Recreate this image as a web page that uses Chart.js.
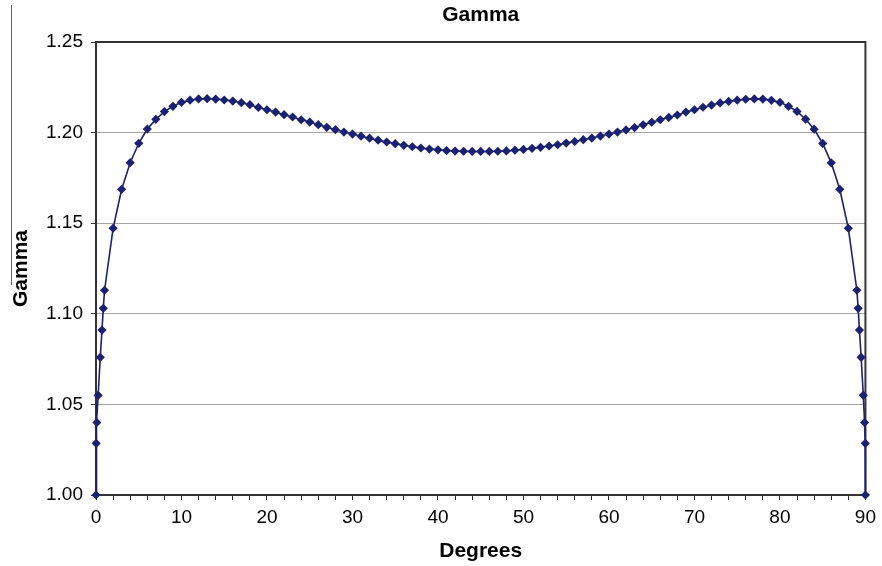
<!DOCTYPE html>
<html>
<head>
<meta charset="utf-8">
<script src="https://cdn.jsdelivr.net/npm/chart.js@4"></script>
<style>
  html, body { margin: 0; padding: 0; background: #fff; }
  #wrap { position: relative; width: 882px; height: 566px; }
  #edge { position: absolute; left: 11px; top: 5px; width: 1px; height: 280px; background: #666; }
</style>
</head>
<body>
<div id="wrap">
  <canvas id="gammaChart" width="882" height="566"></canvas>
  <div id="edge"></div>
</div>
<script>
// values
const degrees = [
  0, 0.02, 0.1, 0.25, 0.5, 0.7, 0.85, 1,
  2, 3, 4, 5, 6, 7, 8, 9, 10,
  11, 12, 13, 14, 15, 16, 17, 18, 19, 20,
  21, 22, 23, 24, 25, 26, 27, 28, 29, 30,
  31, 32, 33, 34, 35, 36, 37, 38, 39, 40,
  41, 42, 43, 44, 45, 46, 47, 48, 49, 50,
  51, 52, 53, 54, 55, 56, 57, 58, 59, 60,
  61, 62, 63, 64, 65, 66, 67, 68, 69, 70,
  71, 72, 73, 74, 75, 76, 77, 78, 79, 80,
  81, 82, 83, 84, 85, 86, 87, 88,
  89, 89.15, 89.3, 89.5, 89.75, 89.9, 89.98, 90
];
const gamma = [
  1.000, 1.0285, 1.040, 1.055, 1.076, 1.091, 1.103, 1.113,
  1.1472, 1.1687, 1.1834, 1.1941, 1.2020, 1.2073, 1.2116, 1.2145, 1.2167,
  1.2179, 1.2186, 1.2187, 1.2185, 1.2180, 1.2174, 1.2165, 1.2154, 1.2139, 1.2126,
  1.2113, 1.2099, 1.2086, 1.2071, 1.2058, 1.2044, 1.2029, 1.2016, 1.2003, 1.1992,
  1.1980, 1.1969, 1.1958, 1.1948, 1.1939, 1.1930, 1.1922, 1.1915, 1.1909, 1.1905,
  1.1901, 1.1898, 1.1897, 1.1896, 1.1896, 1.1896, 1.1897, 1.1899, 1.1903, 1.1907,
  1.1913, 1.1919, 1.1926, 1.1933, 1.1942, 1.1951, 1.1961, 1.1970, 1.1981, 1.1992,
  1.2003, 1.2015, 1.2028, 1.2043, 1.2057, 1.2071, 1.2084, 1.2097, 1.2113, 1.2126,
  1.2140, 1.2152, 1.2164, 1.2172, 1.2179, 1.2184, 1.2186, 1.2185, 1.2178, 1.2167,
  1.2145, 1.2117, 1.2074, 1.2019, 1.1940, 1.1833, 1.1687, 1.1472,
  1.113, 1.103, 1.091, 1.076, 1.055, 1.040, 1.0285, 1.000
];
const xLabels = [0, 10, 20, 30, 40, 50, 60, 70, 80, 90];

const FONT = 'Liberation Sans, Arial, sans-serif';

// box round the plot area, like the Excel frame
const frame = {
  id: 'frame',
  beforeDatasetsDraw(chart) {
    const { ctx, chartArea: a } = chart;
    ctx.save();
    ctx.strokeStyle = '#333';
    ctx.lineWidth = 2;
    ctx.strokeRect(a.left, a.top, a.right - a.left, a.bottom - a.top);
    ctx.restore();
  }
};

function initializeChart() {
  const ctx = document.getElementById('gammaChart').getContext('2d');
  return new Chart(ctx, {
    type: 'line',
    data: {
      datasets: [
        {
          data: degrees.map((d, i) => ({ x: d, y: gamma[i] })),
          borderColor: '#1c2070',
          backgroundColor: '#1c2070',
          borderWidth: 1.6,
          pointStyle: 'rectRot',
          pointRadius: 4.6,
          pointBorderWidth: 0,
          tension: 0,
          clip: false,
        },
      ],
    },
    options: {
      responsive: false,
      animation: false,
      layout: { padding: { left: 0, right: 11, top: 0, bottom: 0 } },
      plugins: {
        legend: { display: false },
        tooltip: { enabled: false },
        title: {
          display: true,
          text: 'Gamma',
          fullSize: false,
          color: '#000',
          font: { family: FONT, size: 21, weight: 'bold' },
          padding: { top: 3, bottom: 13.8 },
        },
      },
      scales: {
        x: {
          type: 'linear',
          min: 0,
          max: 90,
          afterFit: s => { s.height = 71; },
          border: { display: true, color: '#333', width: 2 },
          grid: { drawOnChartArea: false, drawTicks: true, tickLength: 5, color: '#333' },
          ticks: {
            stepSize: 2,
            autoSkip: false,
            maxRotation: 0,
            padding: 6,
            color: '#000',
            font: { family: FONT, size: 19 },
            callback: v => (xLabels.includes(v) ? String(v) : ''),
          },
          title: {
            display: true,
            text: 'Degrees',
            color: '#000',
            font: { family: FONT, size: 21, weight: 'bold' },
            padding: 2,
          },
        },
        y: {
          min: 1.0,
          max: 1.25,
          afterFit: s => { s.width = 96; },
          border: { display: true, color: '#333', width: 2 },
          grid: { color: '#a6a6a6', lineWidth: 1, tickLength: 5, tickColor: '#333' },
          ticks: {
            stepSize: 0.05,
            padding: 8,
            color: '#000',
            font: { family: FONT, size: 19 },
            callback: v => v.toFixed(2),
          },
          title: {
            display: true,
            text: 'Gamma',
            color: '#000',
            font: { family: FONT, size: 21, weight: 'bold' },
            padding: 9,
          },
        },
      },
    },
    plugins: [frame],
  });
}

initializeChart();
</script>
</body>
</html>
